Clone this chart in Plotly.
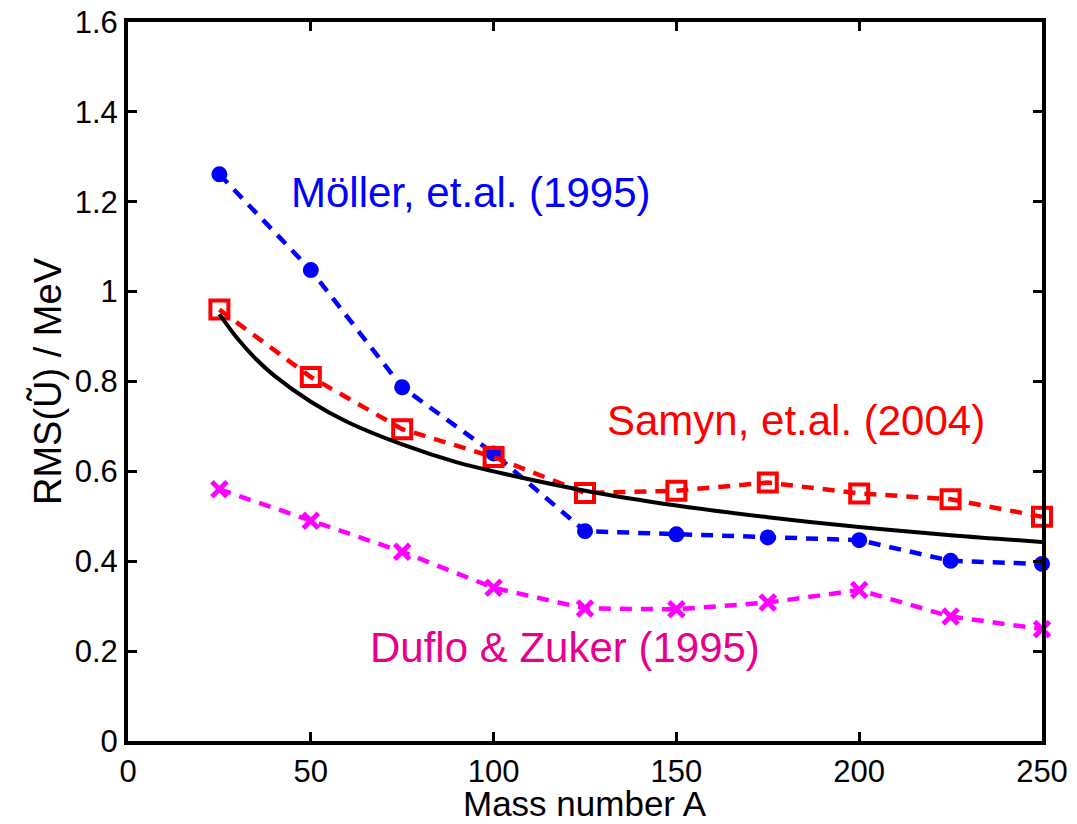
import plotly.graph_objects as go

A = [25, 50, 75, 100, 125, 150, 175, 200, 225, 250]
moller = [1.261, 1.048, 0.787, 0.640, 0.467, 0.460, 0.453, 0.447, 0.401, 0.394]
samyn = [0.960, 0.810, 0.694, 0.632, 0.552, 0.557, 0.575, 0.551, 0.538, 0.499]
duflo = [0.560, 0.490, 0.421, 0.341, 0.295, 0.293, 0.308, 0.336, 0.277, 0.249]

fit_A = [25, 30, 35, 40, 50, 60, 75, 90, 100, 125, 150, 175, 200, 225, 250]
fit_rms = [0.950, 0.895, 0.850, 0.813, 0.755, 0.710, 0.660, 0.620, 0.600, 0.557, 0.524, 0.498, 0.476, 0.458, 0.443]

x_ticks = [0, 50, 100, 150, 200, 250]
y_ticks = [0, 0.2, 0.4, 0.6, 0.8, 1.0, 1.2, 1.4, 1.6]
y_tick_text = ["0", "0.2", "0.4", "0.6", "0.8", "1", "1.2", "1.4", "1.6"]

labels = ["Möller, et.al. (1995)", "Samyn, et.al. (2004)", "Duflo &amp; Zuker (1995)"]
label_x = [93.8, 182.6, 119.5]
label_y = [1.221, 0.714, 0.207]
label_colors = ["#0000FF", "#FF0000", "#E8008C"]

x_title = "Mass number A"
y_title = "RMS(Ũ) / MeV"

FONT = "Liberation Sans, Arial, sans-serif"
DASH = "12px,9px"
W, H = 1077, 824
M = dict(l=128, r=35, t=22, b=83)

fig = go.Figure()
fig.add_trace(go.Scatter(
    x=A, y=moller, mode="lines+markers", cliponaxis=False,
    line=dict(color="#0000FF", width=4.5, dash=DASH),
    marker=dict(symbol="circle", size=16, color="#0000FF"),
))
fig.add_trace(go.Scatter(
    x=A, y=samyn, mode="lines+markers", cliponaxis=False,
    line=dict(color="#FF0000", width=4.5, dash=DASH),
    marker=dict(symbol="square-open", size=18, color="#FF0000", line=dict(width=4, color="#FF0000")),
))
fig.add_trace(go.Scatter(
    x=A, y=duflo, mode="lines+markers", cliponaxis=False,
    line=dict(color="#FF00FF", width=4.5, dash=DASH),
    marker=dict(symbol="x-thin", size=15, color="#FF00FF", line=dict(width=5, color="#FF00FF")),
))
fig.add_trace(go.Scatter(
    x=fit_A, y=fit_rms, mode="lines",
    line=dict(color="black", width=4, shape="spline"),
))

for t, xx, yy, c in zip(labels, label_x, label_y, label_colors):
    fig.add_annotation(x=xx, y=yy, text=t, showarrow=False,
                       font=dict(family=FONT, size=42, color=c),
                       xanchor="center", yanchor="middle")

# x-axis title placed at the bottom edge of the figure
plot_h = H - M["t"] - M["b"]
fig.add_annotation(x=0.5, xref="paper", y=-M["b"] / plot_h, yref="paper",
                   text=x_title, showarrow=False, borderpad=0,
                   font=dict(family=FONT, size=35, color="black"),
                   xanchor="center", yanchor="bottom")

axis_common = dict(
    showline=True, linecolor="black", linewidth=4, mirror="ticks",
    ticks="inside", ticklen=9, tickwidth=3, tickcolor="black",
    showgrid=False, zeroline=False, automargin=False,
    tickfont=dict(family=FONT, size=31, color="black"),
)

fig.update_xaxes(range=[0, 250], tickvals=x_ticks, ticklabelstandoff=0, **axis_common)
fig.update_yaxes(range=[0, 1.6], tickvals=y_ticks, ticktext=y_tick_text,
                 title=dict(text=y_title, font=dict(family=FONT, size=38, color="black"), standoff=2),
                 **axis_common)

fig.update_layout(
    width=W, height=H, margin=M,
    plot_bgcolor="white", paper_bgcolor="white",
    showlegend=False,
)

fig.write_html("out.html", config={"displayModeBar": False},
               post_script="document.body.style.margin='0';")
